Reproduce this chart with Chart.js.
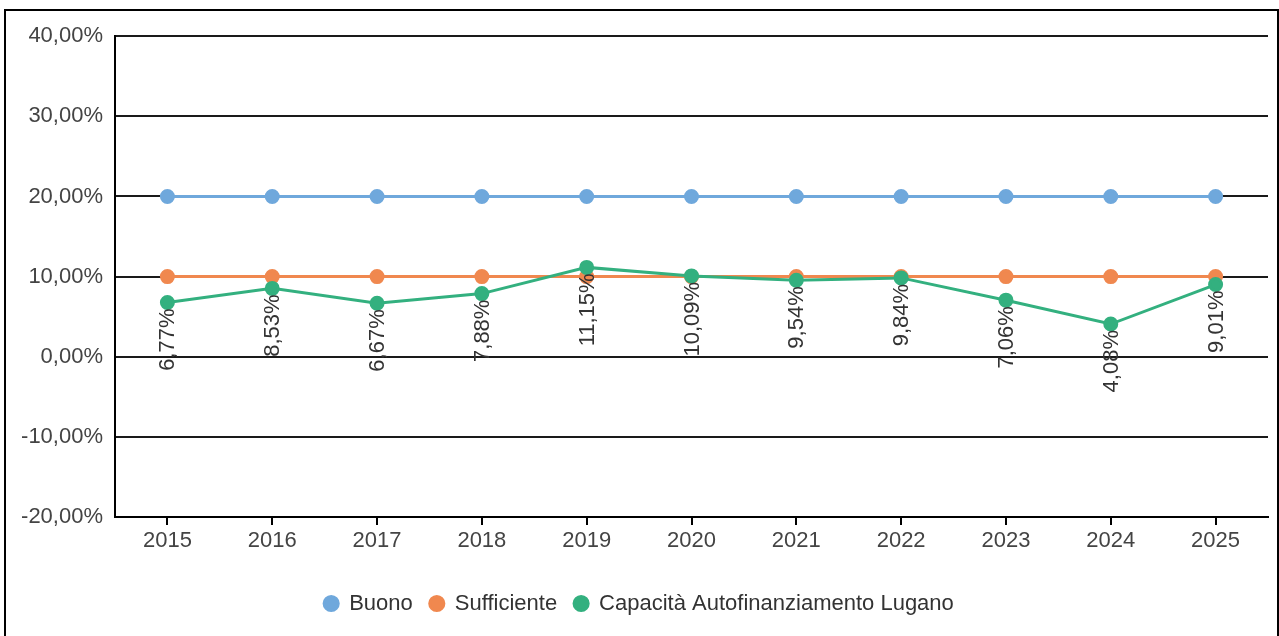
<!DOCTYPE html>
<html>
<head>
<meta charset="utf-8">
<script src="https://cdn.jsdelivr.net/npm/chart.js@4"></script>
<style>
  html, body { margin: 0; padding: 0; background: #fff; overflow: hidden; }
  #frame { position: absolute; left: 4px; top: 9px; width: 1271px; height: 650px; border: 2px solid #000; box-sizing: content-box; }
  #wrap { position: relative; width: 1271px; height: 625px; }
</style>
</head>
<body>
<div id="frame"><div id="wrap"><canvas id="c"></canvas></div></div>
<script>
const categories = ['2015','2016','2017','2018','2019','2020','2021','2022','2023','2024','2025'];
const buono = [20,20,20,20,20,20,20,20,20,20,20];
const sufficiente = [10,10,10,10,10,10,10,10,10,10,10];
const capacita = [6.77,8.53,6.67,7.88,11.15,10.09,9.54,9.84,7.06,4.08,9.01];
const seriesNames = ['Buono','Sufficiente','Capacità Autofinanziamento Lugano'];
const yMin = -20, yMax = 40, yStep = 10;

const fmt = v => v.toFixed(2).replace('.', ',') + '%';
const FONT = 'Liberation Sans, Arial, sans-serif';
const FS = 22;

const labelPlugin = {
  id: 'vlabels',
  afterDatasetsDraw(chart) {
    const meta = chart.getDatasetMeta(2);
    const ctx = chart.ctx;
    ctx.save();
    ctx.font = FS + 'px ' + FONT;
    ctx.fillStyle = '#333';
    ctx.textAlign = 'right';
    ctx.textBaseline = 'middle';
    meta.data.forEach((pt, i) => {
      ctx.save();
      ctx.translate(pt.x + 1, pt.y + 6);
      ctx.rotate(-Math.PI / 2);
      ctx.fillText(fmt(capacita[i]), 0, 0);
      ctx.restore();
    });
    ctx.restore();
  }
};

const mk = (label, data, color, order) => ({
  label, data, order,
  borderColor: color, backgroundColor: color,
  pointBackgroundColor: color, pointBorderColor: color,
  borderWidth: 3, pointRadius: 6, pointHoverRadius: 6, tension: 0
});

new Chart(document.getElementById('c'), {
  type: 'line',
  data: {
    labels: categories,
    datasets: [
      mk(seriesNames[0], buono, '#6FA8DC', 2),
      mk(seriesNames[1], sufficiente, '#F0884F', 1),
      mk(seriesNames[2], capacita, '#33B07F', 0)
    ]
  },
  options: {
    responsive: true,
    maintainAspectRatio: false,
    animation: false,
    layout: { padding: { top: 23, left: 0, right: 5, bottom: 11.5 } },
    plugins: {
      tooltip: { enabled: false },
      legend: {
        position: 'bottom',
        labels: {
          usePointStyle: true, pointStyle: 'circle',
          boxWidth: 14, boxHeight: 10, padding: 17,
          color: '#333', font: { family: FONT, size: FS },
          sort: (a, b) => a.datasetIndex - b.datasetIndex
        }
      }
    },
    scales: {
      x: {
        offset: true,
        grid: { drawOnChartArea: false, drawTicks: true, tickLength: 8, color: '#000', lineWidth: 2 },
        border: { display: true, color: '#000', width: 2 },
        ticks: { color: '#444', padding: 3, font: { family: FONT, size: FS } },
        afterFit(s) { s.height = 58.5; }
      },
      y: {
        min: yMin, max: yMax,
        grid: { color: '#1a1a1a', lineWidth: 2, drawTicks: false },
        border: { display: true, color: '#000', width: 2 },
        ticks: { stepSize: yStep, color: '#444', padding: 12, font: { family: FONT, size: FS }, callback: v => fmt(v) },
        afterFit(s) { s.width = 109; }
      }
    }
  },
  plugins: [labelPlugin]
});
</script>
</body>
</html>
